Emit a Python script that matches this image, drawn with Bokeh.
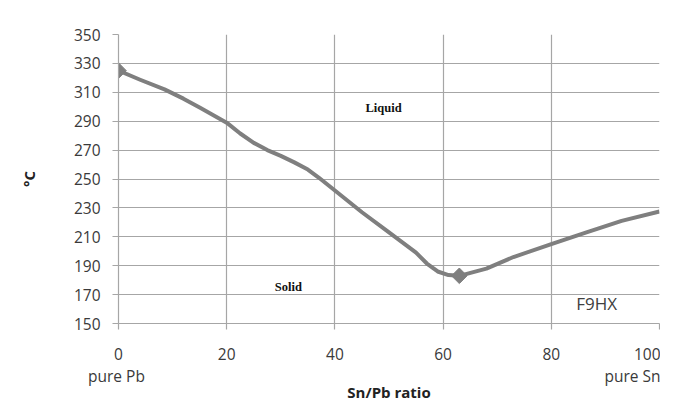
import math
from bokeh.plotting import figure
from bokeh.models import Range1d, FixedTicker, Label, LinearAxis
from bokeh.embed import file_html
from bokeh.resources import INLINE

# Data
ratio = [0, 4, 8.5, 12, 15, 20, 22.5, 25, 27.5, 30, 32.5, 35, 37, 40, 45, 50, 55, 57, 59, 61, 63, 68, 73, 80, 86.5, 93, 100]
temp = [325, 318.7, 312, 305.6, 299.5, 289, 281.5, 275, 270, 266, 261.5, 256.5, 251, 242, 227, 213, 199, 191.5, 186, 183.5, 183, 188, 196, 205, 213, 221, 227.5]
marker_x = [0, 63]
marker_y = [325, 183]
x_ticks = [0, 20, 40, 60, 80, 100]
y_ticks = [150, 170, 190, 210, 230, 250, 270, 290, 310, 330, 350]
end_ticks = [0, 97]
end_tick_labels = {0: "pure  Pb", 97: "pure Sn"}
region_labels = [("Liquid", 49, 299), ("Solid", 31.4, 175)]
watermark = ("F9HX", 88.4, 164)

p = figure(width=660, height=404, output_backend="svg", toolbar_location=None,
           x_range=Range1d(0, 100), y_range=Range1d(150, 350),
           min_border_left=118, min_border_top=34, min_border_right=1, min_border_bottom=80)
p.outline_line_color = None
p.background_fill_color = "white"
p.border_fill_color = "white"

grid_color = "#a6a6a6"
text_color = "#3a3a3a"
p.xgrid.grid_line_color = grid_color
p.ygrid.grid_line_color = grid_color
p.xgrid.grid_line_width = 1.2
p.ygrid.grid_line_width = 1.2

p.xaxis.ticker = FixedTicker(ticks=x_ticks)
p.yaxis.ticker = FixedTicker(ticks=y_ticks)

for ax in (p.xaxis[0], p.yaxis[0]):
    ax.axis_line_color = grid_color
    ax.axis_line_width = 1.2
    ax.major_tick_line_color = grid_color
    ax.major_tick_line_width = 1.2
    ax.major_tick_out = 6
    ax.major_tick_in = 0
    ax.minor_tick_line_color = None
    ax.major_label_text_font = "Open Sans"
    ax.major_label_text_font_size = "15.5px"
    ax.major_label_text_color = text_color
    ax.axis_label_text_font = "Open Sans"
    ax.axis_label_text_font_style = "bold"
    ax.axis_label_text_font_size = "15px"
    ax.axis_label_text_color = "#222222"

p.yaxis.major_label_standoff = 12
p.yaxis.axis_label = "°C"
p.yaxis.axis_label_standoff = 32
p.xaxis.major_label_standoff = 18

# second row under the x axis: end labels and axis title
ax2 = LinearAxis(ticker=FixedTicker(ticks=end_ticks), major_label_overrides=end_tick_labels,
                 axis_line_color=None, major_tick_line_color=None, minor_tick_line_color=None,
                 major_tick_out=0, major_tick_in=0, major_label_standoff=2,
                 major_label_text_font="Open Sans", major_label_text_font_size="15.5px",
                 major_label_text_color=text_color,
                 axis_label="Sn/Pb ratio", axis_label_standoff=-8,
                 axis_label_text_font="Open Sans", axis_label_text_font_style="bold",
                 axis_label_text_font_size="15px", axis_label_text_color="#222222")
p.add_layout(ax2, "below")

p.line(ratio, temp, line_color="#7f7f7f", line_width=4, line_join="round")
p.scatter(marker_x, marker_y, marker="square", angle=math.pi / 4, size=11,
          fill_color="#7f7f7f", line_color="#7f7f7f")

for txt, lx, ly in region_labels:
    p.add_layout(Label(x=lx, y=ly, text=txt, text_font="Liberation Serif", text_font_style="bold",
                       text_font_size="12.5px", text_align="center", text_baseline="middle",
                       text_color="#111111"))
p.add_layout(Label(x=watermark[1], y=watermark[2], text=watermark[0], text_font="Open Sans",
                   text_font_size="17px", text_align="center", text_baseline="middle",
                   text_color="#404040"))

open("out.html", "w").write(file_html(p, INLINE))
